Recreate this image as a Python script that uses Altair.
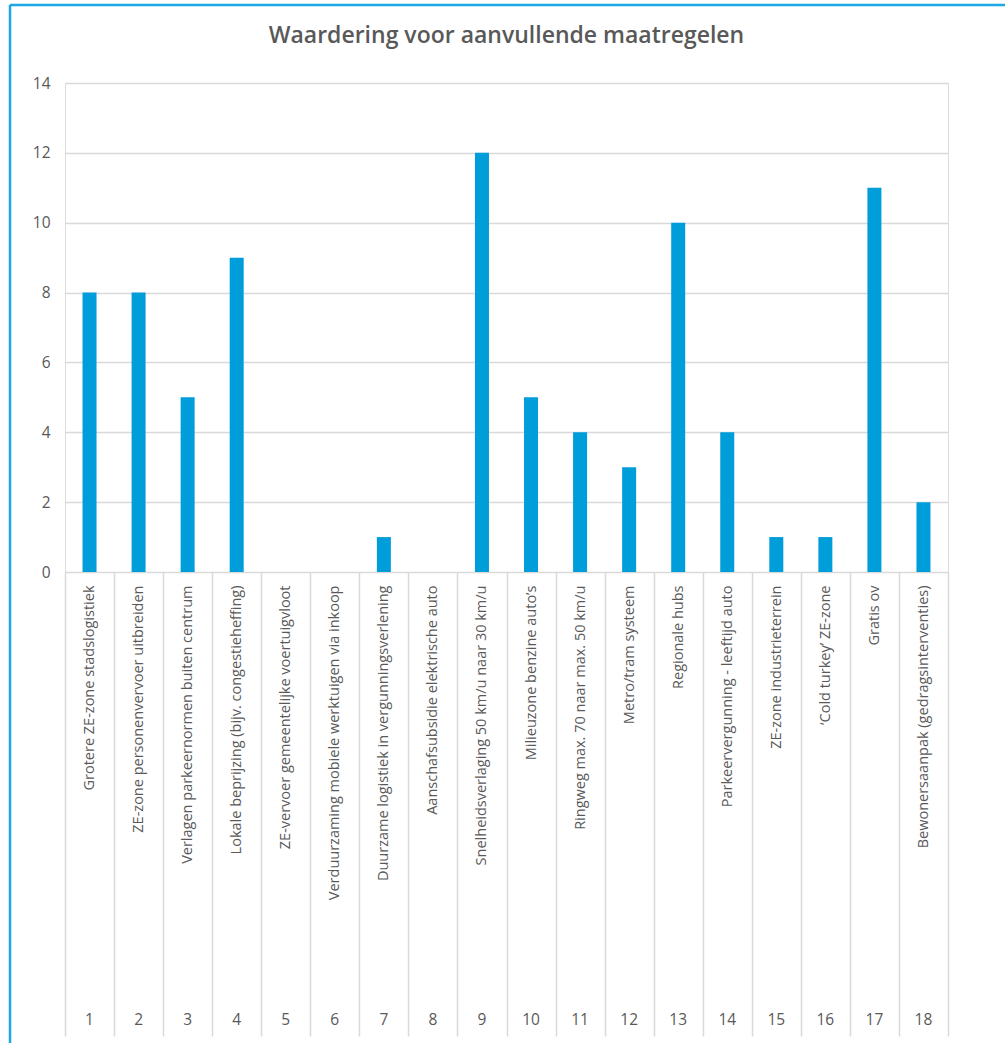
import altair as alt
import pandas as pd

numbers = [str(i) for i in range(1, 19)]
labels = [
    "Grotere ZE-zone stadslogistiek",
    "ZE-zone personenvervoer uitbreiden",
    "Verlagen parkeernormen buiten centrum",
    "Lokale beprijzing (bijv. congestieheffing)",
    "ZE-vervoer gemeentelijke voertuigvloot",
    "Verduurzaming mobiele werktuigen via inkoop",
    "Duurzame logistiek in vergunningsverlening",
    "Aanschafsubsidie elektrische auto",
    "Snelheidsverlaging 50 km/u naar 30 km/u",
    "Milieuzone benzine auto\u2019s",
    "Ringweg max. 70 naar max. 50 km/u",
    "Metro/tram systeem",
    "Regionale hubs",
    "Parkeervergunning - leeftijd auto",
    "ZE-zone industrieterrein",
    "\u2018Cold turkey\u2019 ZE-zone",
    "Gratis ov",
    "Bewonersaanpak (gedragsinterventies)",
]
values = [8, 8, 5, 9, 0, 0, 1, 0, 12, 5, 4, 3, 10, 4, 1, 1, 11, 2]
y_ticks = [0, 2, 4, 6, 8, 10, 12, 14]

df = pd.DataFrame({"nr": numbers, "label": labels, "value": values})

GRAY = "#595959"
GRID = "#D9D9D9"
FONT = "Open Sans"

x_enc = alt.X(
    "label:N",
    sort=labels,
    scale=alt.Scale(paddingInner=0, paddingOuter=0),
    axis=alt.Axis(
        title=None,
        labelAngle=270,
        labelAlign="right",
        labelBaseline="middle",
        labelPadding=-451,
        labelLimit=0,
        labelFont=FONT,
        labelFontSize=14.5,
        labelColor=GRAY,
        ticks=True,
        tickSize=464,
        tickBand="extent",
        tickColor=GRID,
        tickWidth=1.5,
        domain=False,
        grid=False,
    ),
)

bars = alt.Chart(df).mark_bar(width=14, color="#009DDB").encode(
    x=x_enc,
    y=alt.Y(
        "value:Q",
        scale=alt.Scale(domain=[0, 14], nice=False),
        axis=alt.Axis(
            title=None,
            values=y_ticks,
            labelPadding=15,
            ticks=False,
            domain=False,
            labelFont=FONT,
            labelFontSize=15.5,
            labelColor=GRAY,
            grid=True,
            gridColor=GRID,
            gridWidth=1.5,
        ),
    ),
)

nums = alt.Chart(df).mark_text(
    font=FONT, fontSize=15.5, color=GRAY, baseline="middle", align="center"
).encode(
    x=alt.X("label:N", sort=labels),
    y=alt.value(937),
    text="nr:N",
)

one = pd.DataFrame({"a": [0]})
border_left = alt.Chart(one).mark_rule(color="#1AA7E4", strokeWidth=2.5).encode(
    x=alt.value(-55), y=alt.value(-78), y2=alt.value(960)
)
border_top = alt.Chart(one).mark_rule(color="#1AA7E4", strokeWidth=2.5).encode(
    x=alt.value(-55), x2=alt.value(940), y=alt.value(-78)
)

chart = (
    alt.layer(bars, nums, border_left, border_top)
    .properties(
        width=883,
        height=489,
        title=alt.TitleParams(
            "Waardering voor aanvullende maatregelen",
            font=FONT,
            fontSize=23,
            fontWeight=600,
            color=GRAY,
            anchor="middle",
            baseline="bottom",
            offset=-67,
        ),
        autosize=alt.AutoSizeParams(type="none"),
        padding={"left": 65, "top": 83, "right": 57, "bottom": 471},
    )
    .configure_view(stroke=GRID, strokeWidth=1.5)
    .configure(background="white")
)

chart.save("out.html", embed_options={"renderer": "svg", "actions": False})
